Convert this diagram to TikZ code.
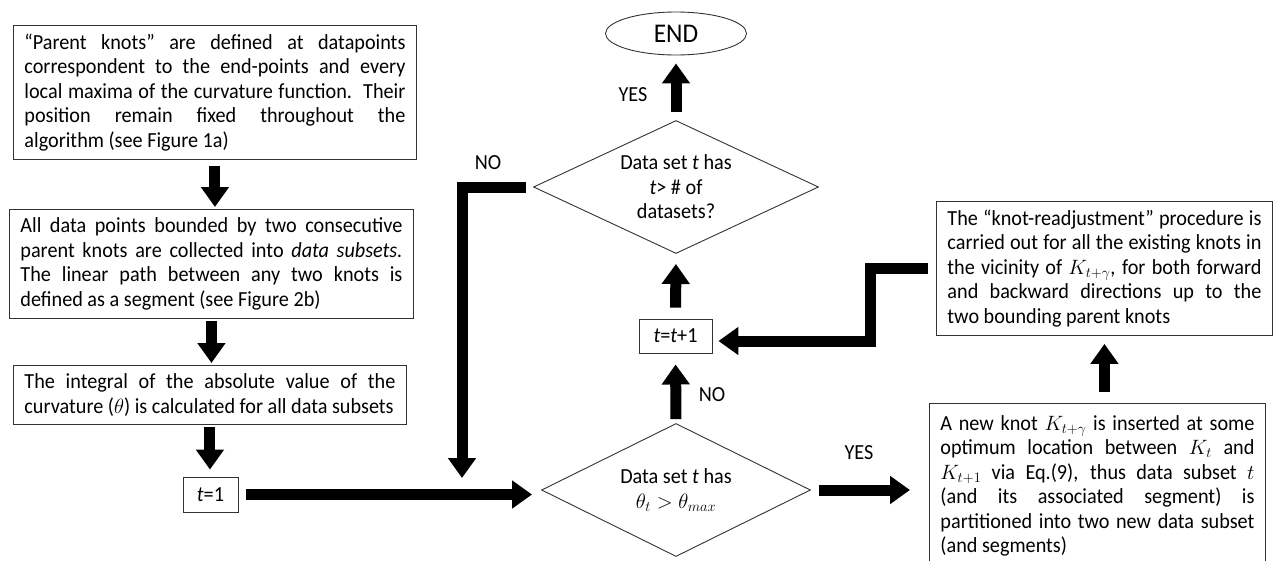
\documentclass[tikz,border=0pt]{standalone}
\usepackage{fontspec}
\setmainfont{Carlito}[FakeStretch=0.94]
\usetikzlibrary{arrows.meta,shapes.geometric}
\newlength\tw
\newcommand\nsp{\spaceskip=0pt\xspaceskip=0pt\relax}
\newcommand\jl[1]{\makebox[\tw][s]{\nsp#1}}
\tikzset{
  txt/.style={font=\fontsize{21.5}{24.5}\selectfont},
  textbox/.style={txt,draw=black!80,line width=0.9pt,rectangle,anchor=north west,
    inner xsep=11pt,inner ysep=0pt,align=left},
  smallbox/.style={txt,draw=black!80,line width=0.9pt,rectangle,inner sep=0pt},
  decision/.style={txt,draw=black!80,line width=0.9pt,diamond,aspect=2,inner sep=0pt,align=center},
  bigarrow/.style={line width=11pt,line join=miter,-{Triangle[length=20pt,width=27pt]}},
  lbl/.style={txt}
}
\begin{document}
\begin{tikzpicture}[x=1pt,y=-1pt]
\useasboundingbox (0,0) rectangle (1276,560);
\clip (0,0) rectangle (1276,560);
\fill[white] (0,0) rectangle (1276,560);

% left column
\setlength{\tw}{381pt}
\node[textbox,text width=381pt,minimum height=134pt] (b1) at (13,25)
 {\nsp\jl{“Parent knots” are defined at datapoints}\\
  \jl{correspondent to the end-points and every}\\
  \jl{local maxima of the curvature function.\ \ Their}\\
  \jl{position remain fixed throughout the}\\
  algorithm (see Figure 1a)};
\setlength{\tw}{382pt}
\node[textbox,text width=382pt,minimum height=109pt] (b2) at (9,209)
 {\nsp\jl{All data points bounded by two consecutive}\\
  \jl{parent knots are collected into \textit{data subsets.}}\\
  \jl{The linear path between any two knots is}\\
  defined as a segment (see Figure 2b)};
\setlength{\tw}{371pt}
\node[textbox,text width=371pt,minimum height=59pt] (b3) at (13,365)
 {\nsp\jl{The integral of the absolute value of the}\\
  curvature ($\theta$) is calculated for all data subsets};
\node[smallbox,minimum width=55pt,minimum height=35pt] (t1) at (210.5,494.5) {\textit{t}=1};

% middle column
\node[draw=black!80,line width=0.9pt,ellipse,minimum width=141pt,minimum height=43pt,inner sep=0pt,
  font=\fontsize{27}{30}\selectfont] (end) at (676,33.5) {END};
\node[decision,minimum width=285pt,minimum height=133pt] (d1) at (676,187)
 {\nsp Data set \textit{t} has\\ \textit{t}> \# of\\ datasets?};
\node[smallbox,minimum width=73pt,minimum height=34pt] (tt) at (675.5,336) {\textit{t}=\textit{t}+1};
\node[decision,minimum width=269pt,minimum height=133pt] (d2) at (676,490)
 {\nsp Data set \textit{t} has\\ $\theta_t > \theta_{max}$};
\coordinate (noend) at (462,478);

% right column
\setlength{\tw}{314pt}
\node[textbox,text width=314pt,minimum height=134pt] (b4) at (936,201)
 {\nsp\jl{The “knot-readjustment” procedure is}\\
  \jl{carried out for all the existing knots in}\\
  \jl{the vicinity of $K_{t+\gamma}$, for both forward}\\
  \jl{and backward directions up to the}\\
  two bounding parent knots};
\node[textbox,text width=314pt,minimum height=165pt] (b5) at (929,403)
 {\nsp\jl{A new knot $K_{t+\gamma}$ is inserted at some}\\
  \jl{optimum location between $K_t$ and}\\
  \jl{$K_{t+1}$ via Eq.(9), thus data subset $t$}\\
  \jl{(and its associated segment) is}\\
  \jl{partitioned into two new data subset}\\
  (and segments)};

% labels
\node[lbl] (yes1) at (633,95) {YES};
\node[lbl] (no1) at (488,163) {NO};
\node[lbl] (no2) at (712,395) {NO};
\node[lbl] (yes2) at (859,453) {YES};

% connectors
\draw[bigarrow,shorten <=6pt,shorten >=2pt] (b1.south) -- (b1.south |- b2.north);
\draw[bigarrow,shorten <=2pt,shorten >=2pt] (b2.south) -- (b2.south |- b3.north);
\draw[bigarrow,shorten <=2pt,shorten >=7pt] (b3.south) -- (b3.south |- t1.north);
\draw[bigarrow,shorten <=8pt,shorten >=9pt] (t1.east) -- (t1.east -| d2.west);
\draw[bigarrow,shorten <=4pt,shorten >=11pt] (d2.north) -- (tt.south);
\draw[bigarrow,shorten <=11pt,shorten >=10pt] (tt.north) -- (d1.south);
\draw[bigarrow,shorten <=8pt,shorten >=8pt] (d1.north) -- (end.south);
\draw[bigarrow,shorten <=8pt,shorten >=19pt] (d2.east) -- (d2.east -| b5.west);
\draw[bigarrow,shorten <=11pt,shorten >=8pt] (b4.south |- b5.north) -- (b4.south);
\draw[bigarrow] ([xshift=-8pt]b4.west) -- ++(-58,0) |- ([xshift=6pt,yshift=-5pt]tt.east);
\draw[bigarrow] ([xshift=-7pt]d1.west) -| (noend);
\end{tikzpicture}
\end{document}
